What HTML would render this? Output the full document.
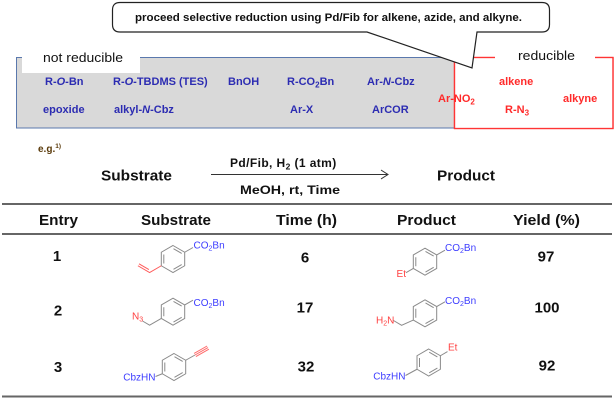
<!DOCTYPE html>
<html>
<head>
<meta charset="utf-8">
<style>
  html, body { margin: 0; padding: 0; background: #fff; }
  svg { display: block; }
  text { font-family: "Liberation Sans", Arial, sans-serif; }
</style>
</head>
<body>
<svg width="614" height="412" viewBox="0 0 614 412" xmlns="http://www.w3.org/2000/svg">
  <defs>
    <g id="ring">
      <path d="M0,-13.5 L11.69,-6.75 L11.69,6.75 L0,13.5 L-11.69,6.75 L-11.69,-6.75 Z M-9.2,-4.5 V4.5 M0.5,-10.32 L8.69,-5.59 M8.69,5.59 L0.5,10.32" fill="none" stroke="#8a8a8a" stroke-width="1"/>
    </g>
  </defs>
  <rect width="614" height="412" fill="#ffffff"/>

  <!-- not reducible grey box -->
  <rect x="16.5" y="57.5" width="438" height="70.5" fill="#d9d9d9" stroke="#5a78ad" stroke-width="1"/>
  <!-- reducible red box -->
  <path d="M495,57.5 H454.5 V128.5 H613 V57.5 H595" fill="#ffffff" stroke="#ff3535" stroke-width="1.3"/>
  <rect x="455.2" y="58.2" width="157" height="69.6" fill="#ffffff"/>
  <path d="M495,57.5 H454.5 V128.5 H613 V57.5 H595" fill="none" stroke="#ff3535" stroke-width="1.3"/>

  <!-- label boxes -->
  <rect x="22" y="50" width="118" height="23" fill="#ffffff"/>
  <text x="43" y="62" font-size="13" textLength="80" lengthAdjust="spacingAndGlyphs" fill="#111">not reducible</text>
  <text x="518" y="60" font-size="13" textLength="57" lengthAdjust="spacingAndGlyphs" fill="#111">reducible</text>

  <!-- blue items -->
  <g font-size="11" font-weight="bold" fill="#2c2cb2">
    <text x="45" y="85">R-<tspan font-style="italic">O</tspan>-Bn</text>
    <text x="113" y="85">R-<tspan font-style="italic">O</tspan>-TBDMS (TES)</text>
    <text x="228" y="85">BnOH</text>
    <text x="287" y="85">R-CO<tspan font-size="8" dy="2.5">2</tspan><tspan dy="-2.5">Bn</tspan></text>
    <text x="367" y="85">Ar-<tspan font-style="italic">N</tspan>-Cbz</text>
    <text x="43" y="113">epoxide</text>
    <text x="114" y="113">alkyl-<tspan font-style="italic">N</tspan>-Cbz</text>
    <text x="290" y="113">Ar-X</text>
    <text x="372" y="113">ArCOR</text>
  </g>
  <!-- red items -->
  <g font-size="11" font-weight="bold" fill="#ff2a2a">
    <text x="499" y="85">alkene</text>
    <text x="438" y="102">Ar-NO<tspan font-size="8" dy="2.5">2</tspan></text>
    <text x="563" y="102">alkyne</text>
    <text x="505" y="113">R-N<tspan font-size="8" dy="2.5">3</tspan></text>
  </g>

  <!-- callout -->
  <path d="M120,2.5 H542 Q549.5,2.5 549.5,10 V24.5 Q549.5,32 542,32 H477 L472,68 L367,32 H120 Q112.5,32 112.5,24.5 V10 Q112.5,2.5 120,2.5 Z" fill="#ffffff" stroke="#222" stroke-width="1.2"/>
  <text x="135" y="21" font-size="11" font-weight="bold" textLength="387" lengthAdjust="spacingAndGlyphs" fill="#111">proceed selective reduction using Pd/Fib for alkene, azide, and alkyne.</text>

  <!-- e.g. -->
  <text x="38" y="152" font-size="10" font-weight="bold" fill="#5a3a0a">e.g.<tspan font-size="6.5" dy="-4">1)</tspan></text>

  <!-- reaction -->
  <text x="101" y="180.5" font-size="15" font-weight="bold" textLength="71" lengthAdjust="spacingAndGlyphs" fill="#111">Substrate</text>
  <text x="437" y="180.5" font-size="15" font-weight="bold" textLength="58" lengthAdjust="spacingAndGlyphs" fill="#111">Product</text>
  <text x="230" y="167" font-size="12" font-weight="bold" letter-spacing="0.4" fill="#111">Pd/Fib, H<tspan font-size="8.5" dy="2.5">2</tspan><tspan dy="-2.5"> (1 atm)</tspan></text>
  <text x="240" y="194" font-size="12" font-weight="bold" textLength="100" lengthAdjust="spacingAndGlyphs" fill="#111">MeOH, rt, Time</text>
  <line x1="211" y1="174.5" x2="388" y2="174.5" stroke="#333" stroke-width="1"/>
  <polyline points="381,170 388,174.5 381,179" fill="none" stroke="#333" stroke-width="1"/>

  <!-- table lines -->
  <line x1="2" y1="204" x2="612" y2="204" stroke="#666" stroke-width="2"/>
  <line x1="2" y1="234" x2="612" y2="234" stroke="#666" stroke-width="2"/>
  <line x1="2" y1="396.5" x2="612" y2="396.5" stroke="#666" stroke-width="2"/>

  <!-- header -->
  <g font-size="15" font-weight="bold" fill="#111">
    <text x="39" y="225" textLength="39" lengthAdjust="spacingAndGlyphs">Entry</text>
    <text x="141" y="225" textLength="70" lengthAdjust="spacingAndGlyphs">Substrate</text>
    <text x="276" y="225" textLength="61" lengthAdjust="spacingAndGlyphs">Time (h)</text>
    <text x="397" y="225" textLength="59" lengthAdjust="spacingAndGlyphs">Product</text>
    <text x="513" y="225" textLength="67" lengthAdjust="spacingAndGlyphs">Yield (%)</text>
  </g>

  <!-- numbers -->
  <g font-size="15" font-weight="bold" fill="#111" text-anchor="middle">
    <text x="57" y="261">1</text>
    <text x="58" y="315.5">2</text>
    <text x="58" y="372">3</text>
    <text x="305" y="262.5">6</text>
    <text x="305" y="312.5">17</text>
    <text x="306" y="371.5">32</text>
    <text x="546" y="261.5">97</text>
    <text x="547" y="312.5">100</text>
    <text x="547" y="370.5">92</text>
  </g>

  <!-- Substrate 1 -->
  <use href="#ring" x="173" y="259"/>
  <line x1="184.69" y1="252.25" x2="193" y2="247.5" stroke="#8a8a8a" stroke-width="1"/>
  <text x="193.5" y="248.5" font-size="10" fill="#3d3dff">CO<tspan font-size="7" dy="2">2</tspan><tspan dy="-2">Bn</tspan></text>
  <path d="M161.31,265.75 L149.6,272.5 L137.9,265.75 M148.9,269.6 L139,263.85" fill="none" stroke="#ff5a5a" stroke-width="1"/>

  <!-- Substrate 2 -->
  <use href="#ring" x="173" y="311.7"/>
  <line x1="184.69" y1="304.95" x2="193" y2="300.2" stroke="#8a8a8a" stroke-width="1"/>
  <text x="193.5" y="306" font-size="10" fill="#3d3dff">CO<tspan font-size="7" dy="2">2</tspan><tspan dy="-2">Bn</tspan></text>
  <path d="M161.31,318.45 L149.6,325.2 L142.5,321" fill="none" stroke="#8a8a8a" stroke-width="1"/>
  <text x="132" y="319.5" font-size="10" fill="#ff4040">N<tspan font-size="7" dy="2">3</tspan></text>

  <!-- Substrate 3 -->
  <use href="#ring" x="174" y="367"/>
  <line x1="185.69" y1="360.25" x2="195" y2="355" stroke="#8a8a8a" stroke-width="1"/>
  <path d="M195,355 L208,347.6 M195.9,356.6 L208.9,349.2 M194.1,353.4 L207.1,346" fill="none" stroke="#ff6a6a" stroke-width="1"/>
  <text x="155.5" y="380.5" font-size="10" fill="#3d3dff" text-anchor="end">CbzHN</text>
  <line x1="155.5" y1="376.5" x2="162.31" y2="373.75" stroke="#8a8a8a" stroke-width="1"/>

  <!-- Product 1 -->
  <use href="#ring" x="425" y="261.7"/>
  <line x1="436.69" y1="254.95" x2="445" y2="250.2" stroke="#8a8a8a" stroke-width="1"/>
  <text x="445" y="251" font-size="10" fill="#3d3dff">CO<tspan font-size="7" dy="2">2</tspan><tspan dy="-2">Bn</tspan></text>
  <line x1="413.31" y1="268.45" x2="406" y2="272.7" stroke="#8a8a8a" stroke-width="1"/>
  <text x="406" y="277" font-size="10" fill="#ff4040" text-anchor="end">Et</text>

  <!-- Product 2 -->
  <use href="#ring" x="425" y="313.3"/>
  <line x1="436.69" y1="306.55" x2="445" y2="301.8" stroke="#8a8a8a" stroke-width="1"/>
  <text x="445" y="304" font-size="10" fill="#3d3dff">CO<tspan font-size="7" dy="2">2</tspan><tspan dy="-2">Bn</tspan></text>
  <path d="M393.5,320.5 L401.6,325.3 L413.31,320.05" fill="none" stroke="#8a8a8a" stroke-width="1"/>
  <text x="376" y="323.5" font-size="10" fill="#ff4040">H<tspan font-size="7" dy="2">2</tspan><tspan dy="-2">N</tspan></text>

  <!-- Product 3 -->
  <use href="#ring" x="428.7" y="362.5"/>
  <line x1="440.39" y1="355.75" x2="447.5" y2="351.6" stroke="#8a8a8a" stroke-width="1"/>
  <text x="448" y="350.5" font-size="10" fill="#ff4040">Et</text>
  <text x="405.5" y="379.5" font-size="10" fill="#3d3dff" text-anchor="end">CbzHN</text>
  <line x1="405.5" y1="375.5" x2="417.01" y2="369.25" stroke="#8a8a8a" stroke-width="1"/>
</svg>
</body>
</html>
